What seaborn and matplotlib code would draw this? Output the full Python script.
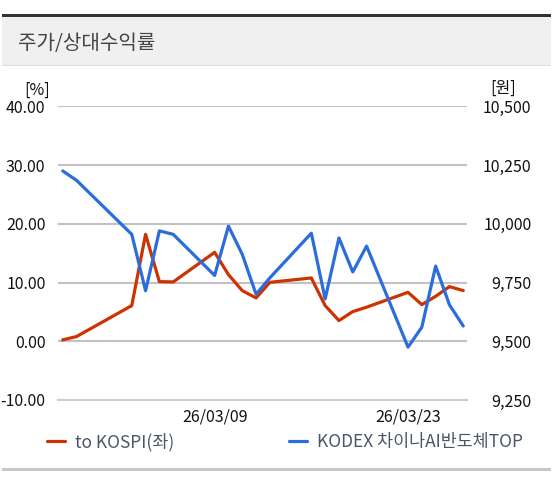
import pandas as pd
import matplotlib.pyplot as plt
import matplotlib.dates as mdates
from matplotlib.patches import Rectangle
import seaborn as sns

# values
dates = ['2026-02-26', '2026-02-27', '2026-03-03', '2026-03-04', '2026-03-05',
         '2026-03-06', '2026-03-09', '2026-03-10', '2026-03-11', '2026-03-12',
         '2026-03-13', '2026-03-16', '2026-03-17', '2026-03-18', '2026-03-19',
         '2026-03-20', '2026-03-23', '2026-03-24', '2026-03-25', '2026-03-26',
         '2026-03-27']
rel_kospi = [0.24, 0.8, 6.07, 18.2, 10.15, 10.1, 15.14, 11.34, 8.62, 7.38,
             10.03, 10.78, 6.07, 3.52, 5.05, 5.8, 8.33, 6.24, 7.65, 9.3, 8.62]
price = [10225, 10185, 9955, 9715, 9970, 9955, 9780, 9990, 9870, 9700,
         9770, 9960, 9680, 9940, 9795, 9905, 9475, 9560, 9820, 9655, 9565]

left_ticks = [-10, 0, 10, 20, 30, 40]
right_ticks = [9250, 9500, 9750, 10000, 10250, 10500]
x_ticks = ['2026-03-09', '2026-03-23']

label_rel = 'to KOSPI(좌)'
label_price = 'KODEX 차이나AI반도체TOP'

df = pd.DataFrame({'date': pd.to_datetime(dates), 'rel': rel_kospi, 'price': price})

sns.set_style('white')
plt.rcParams['font.family'] = ['Noto Sans CJK KR', 'DejaVu Sans']

RED = '#cc3300'
BLUE = '#2a6ddb'
W, H = 553, 484

fig = plt.figure(figsize=(W / 100, H / 100), dpi=100)
ax = fig.add_axes([58 / W, 1 - 400 / H, (467 - 58) / W, (400 - 106.3) / H])
ax2 = ax.twinx()

sns.lineplot(data=df, x='date', y='rel', ax=ax, color=RED, linewidth=2.3, zorder=3)
sns.lineplot(data=df, x='date', y='price', ax=ax2, color=BLUE, linewidth=2.3, zorder=3)

# axis ranges
x0 = mdates.date2num(pd.Timestamp(dates[0])) - 0.34
x1 = mdates.date2num(pd.Timestamp(dates[-1])) + 0.27
ax.set_xlim(x0, x1)
ax.set_ylim(left_ticks[0], left_ticks[-1])
ax2.set_ylim(right_ticks[0], right_ticks[-1])

ax.set_yticks(left_ticks)
ax.set_yticklabels([f'{v:.2f}' for v in left_ticks])
ax2.set_yticks(right_ticks)
ax2.set_yticklabels([f'{v:,}' for v in right_ticks])
ax.set_xticks(pd.to_datetime(x_ticks))
ax.xaxis.set_major_formatter(mdates.DateFormatter('%y/%m/%d'))

ax.set_xlabel('')
ax.set_ylabel('')
ax2.set_ylabel('')

# grid + spines
ax.grid(axis='y', color='#c2c2c2', linewidth=1.5)
ax.grid(axis='x', visible=False)
ax2.grid(False)
ax.set_axisbelow(True)
for a in (ax, ax2):
    for s in a.spines.values():
        s.set_visible(False)
ax.spines['bottom'].set_visible(True)
ax.spines['bottom'].set_color('#c6cfdb')
ax.spines['bottom'].set_linewidth(1.5)

ax.tick_params(axis='y', length=0, pad=9, labelsize=11.5, labelcolor='#111111')
ax2.tick_params(axis='y', length=0, pad=46.5, labelsize=11.5, labelcolor='#111111')
for t in ax2.get_yticklabels():
    t.set_ha('right')
ax.tick_params(axis='x', length=4, width=1.5, color='#c6cfdb', pad=2,
               labelsize=11.5, labelcolor='#111111')

# unit labels
fig.text(50 / W, 1 - 90 / H, '[%]', ha='right', va='center', fontsize=11.5, color='#111111')
fig.text(516 / W, 1 - 88 / H, '[원]', ha='right', va='center', fontsize=11.5, color='#111111')

# header band
fig.patches.append(Rectangle((2 / W, 1 - 65 / H), 549 / W, 48.3 / H,
                             transform=fig.transFigure, facecolor='#f0f0f0',
                             edgecolor='none', zorder=0))
fig.patches.append(Rectangle((2 / W, 1 - 16.7 / H), 549 / W, 2.8 / H,
                             transform=fig.transFigure, facecolor='#333333',
                             edgecolor='none', zorder=1))
fig.patches.append(Rectangle((2 / W, 1 - 65.8 / H), 549 / W, 1 / H,
                             transform=fig.transFigure, facecolor='#dddddd',
                             edgecolor='none', zorder=1))
fig.patches.append(Rectangle((2 / W, 1 - 471 / H), 549 / W, 3 / H,
                             transform=fig.transFigure, facecolor='#c8c8c8',
                             edgecolor='none', zorder=1))
fig.text(18 / W, 1 - 44 / H, '주가/상대수익률', ha='left', va='center',
         fontsize=14.5, color='#444444')

# legend
handles = [ax.lines[0], ax2.lines[0]]
leg = fig.legend(handles, [label_rel, label_price], ncol=2, loc='center left',
                 bbox_to_anchor=(47 / W, 1 - 442 / H), frameon=False,
                 fontsize=12.5, handlelength=1.04, handletextpad=0.58,
                 columnspacing=6.6, borderpad=0, borderaxespad=0)
for t in leg.get_texts():
    t.set_color('#4d5666')

fig.savefig('out.png', dpi=100)
